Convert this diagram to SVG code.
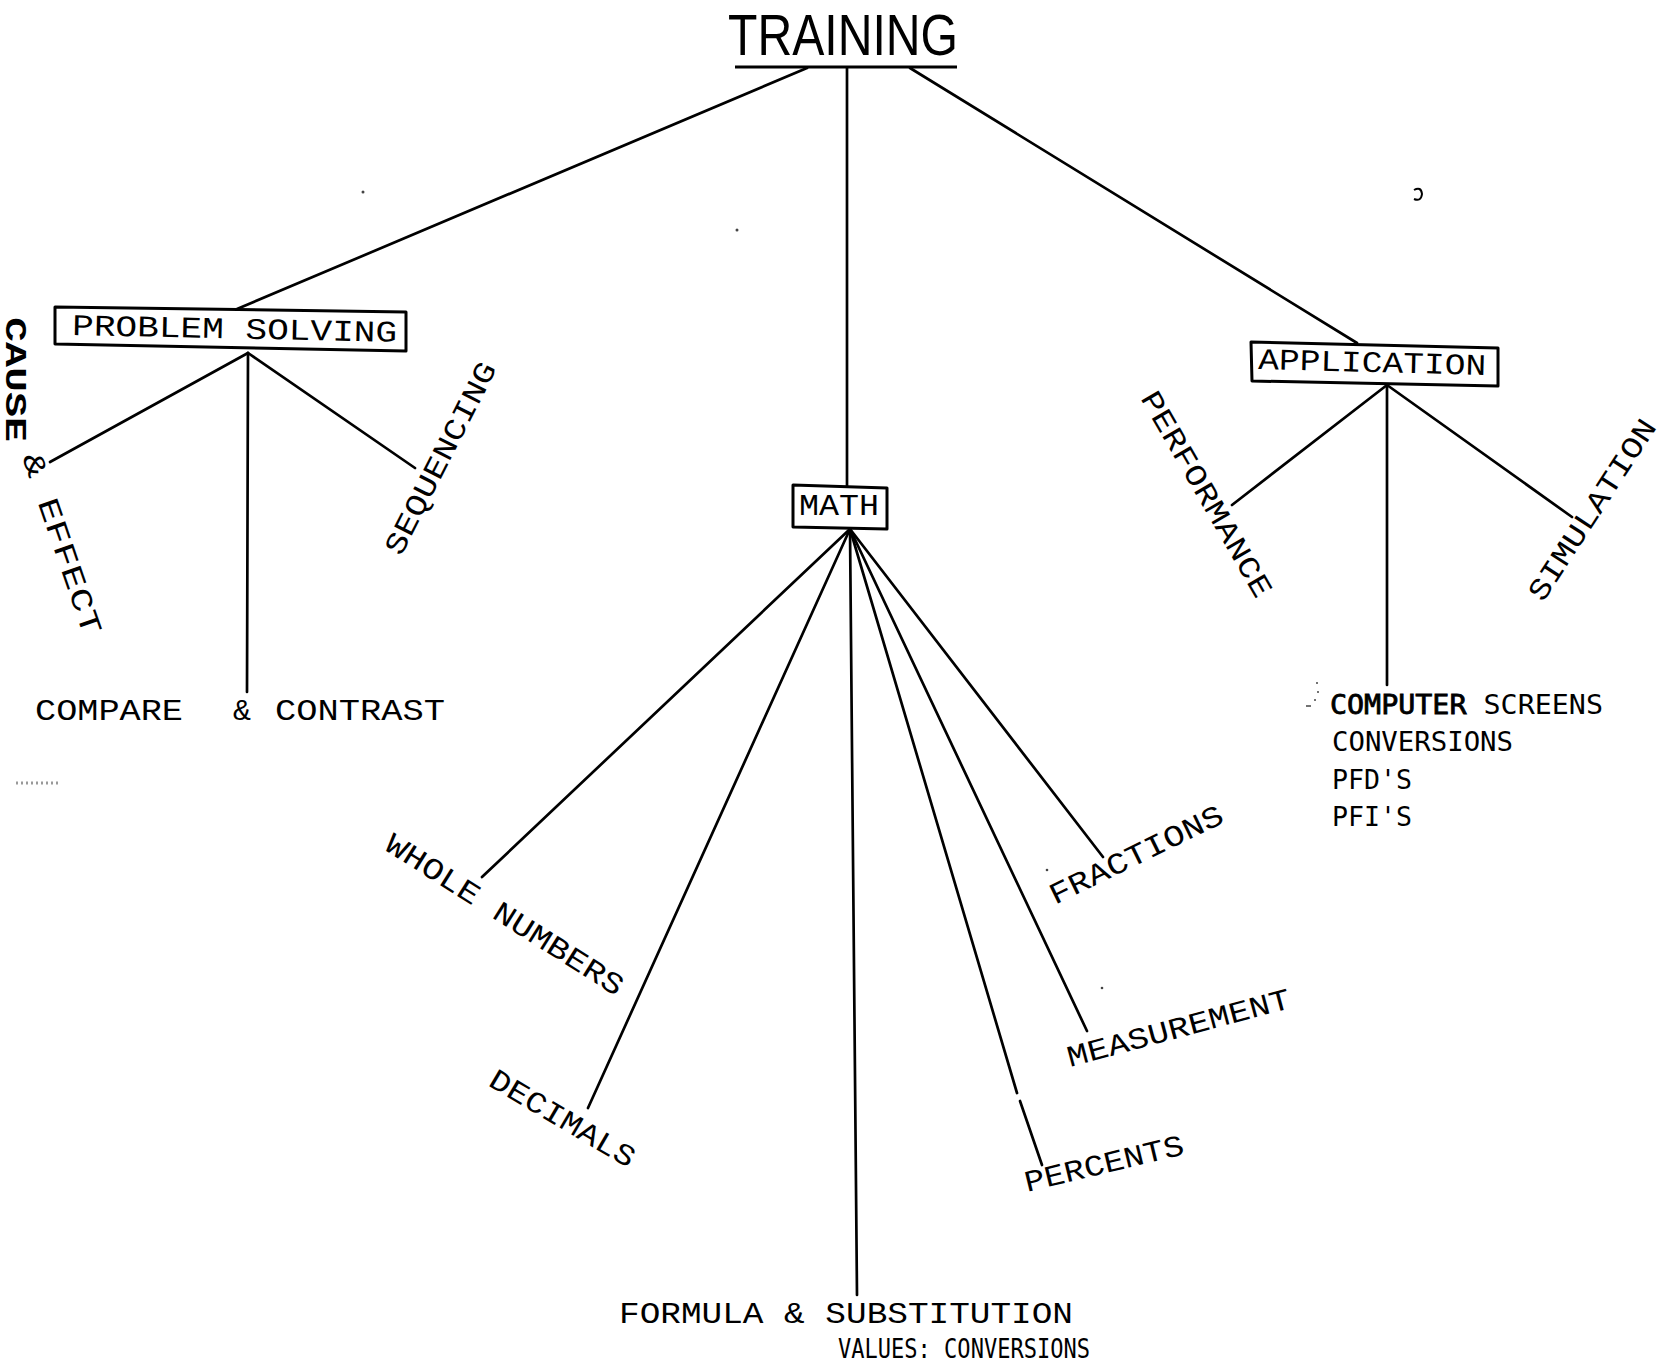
<svg xmlns="http://www.w3.org/2000/svg" width="1675" height="1368" viewBox="0 0 1675 1368">
<style>
.bg{fill:#fff}
.ln{stroke:#000;stroke-width:2.7;fill:none;stroke-linecap:round}
.box{fill:#fff;stroke:#000;stroke-width:3;stroke-linejoin:round}
.tw{font-family:"Liberation Mono","Courier New",monospace;font-size:30px;fill:#000}
.title{font-family:"Liberation Sans",Arial,sans-serif;font-size:58px;fill:#000}
.list{font-family:"DejaVu Sans Mono","Liberation Mono",monospace;font-size:27px;fill:#000}
.speck{fill:#444}
</style>
<rect class="bg" x="0" y="0" width="1675" height="1368"/>

<g id="connectors">
  <path class="ln" d="M807,68 L237,309"/>
  <path class="ln" d="M847,68 L847,486"/>
  <path class="ln" d="M910,68 L1357,343"/>
  <path class="ln" d="M248,353 L50,462"/>
  <path class="ln" d="M248,353 L247,692"/>
  <path class="ln" d="M248,353 L415,468"/>
  <path class="ln" d="M850,529 L482,877"/>
  <path class="ln" d="M850,529 L588,1108"/>
  <path class="ln" d="M850,529 L857,1295"/>
  <path class="ln" d="M850,529 L1017,1093"/>
  <path class="ln" d="M1020,1101 L1042,1165"/>
  <path class="ln" d="M850,529 L1087,1031"/>
  <path class="ln" d="M850,529 L1103,857"/>
  <path class="ln" d="M1387,385 L1232,505"/>
  <path class="ln" d="M1387,385 L1387,685"/>
  <path class="ln" d="M1387,385 L1572,517"/>
</g>

<g id="node-training">
  <text class="title" x="728" y="55" textLength="230" lengthAdjust="spacingAndGlyphs">TRAINING</text>
  <path d="M735,67 L957,67" stroke="#000" stroke-width="3"/>
</g>

<g id="node-problem-solving">
  <polygon class="box" points="55,307 406,312 406,351 55,344"/>
  <text class="tw" x="72" y="335" textLength="325" lengthAdjust="spacingAndGlyphs" transform="rotate(1.2 72 335)">PROBLEM SOLVING</text>
</g>

<g id="node-math">
  <polygon class="box" points="793,485 887,488 887,529 793,527"/>
  <text class="tw" x="799" y="515" textLength="80" lengthAdjust="spacingAndGlyphs">MATH</text>
</g>

<g id="node-application">
  <polygon class="box" points="1251,342 1498,348 1498,386 1252,381"/>
  <text class="tw" x="1258" y="369" textLength="228" lengthAdjust="spacingAndGlyphs" transform="rotate(1.5 1258 369)">APPLICATION</text>
</g>

<g id="node-cause-effect">
  <text class="tw" font-weight="bold" font-size="40" x="0" y="0" textLength="125" lengthAdjust="spacingAndGlyphs" transform="translate(6 317) rotate(90)">CAUSE</text>
  <text class="tw" font-size="32" x="0" y="0" textLength="190" lengthAdjust="spacingAndGlyphs" transform="translate(22 457) rotate(71)">&amp; EFFECT</text>
</g>

<g id="node-compare-contrast">
  <text class="tw" y="720"><tspan x="35" textLength="148" lengthAdjust="spacingAndGlyphs">COMPARE</tspan><tspan x="233">&amp;</tspan><tspan x="275" textLength="170" lengthAdjust="spacingAndGlyphs">CONTRAST</tspan></text>
</g>

<g id="node-sequencing">
  <text class="tw" x="0" y="0" textLength="212" lengthAdjust="spacingAndGlyphs" transform="translate(401 557) rotate(-63)">SEQUENCING</text>
</g>

<g id="node-whole-numbers">
  <text class="tw" x="0" y="0" textLength="276" lengthAdjust="spacingAndGlyphs" transform="translate(383 849) rotate(32.3)">WHOLE NUMBERS</text>
</g>

<g id="node-decimals">
  <text class="tw" x="0" y="0" textLength="164" lengthAdjust="spacingAndGlyphs" transform="translate(487 1085) rotate(30.5)">DECIMALS</text>
</g>

<g id="node-formula">
  <text class="tw" font-size="33" x="619" y="1323" textLength="454" lengthAdjust="spacingAndGlyphs">FORMULA &amp; SUBSTITUTION</text>
  <text class="list" font-size="30" x="838" y="1358" textLength="252" lengthAdjust="spacingAndGlyphs">VALUES: CONVERSIONS</text>
</g>

<g id="node-percents">
  <text class="tw" x="0" y="0" textLength="163" lengthAdjust="spacingAndGlyphs" transform="translate(1027 1192) rotate(-13.5)">PERCENTS</text>
</g>

<g id="node-measurement">
  <text class="tw" x="0" y="0" textLength="230" lengthAdjust="spacingAndGlyphs" transform="translate(1070 1067) rotate(-15)">MEASUREMENT</text>
</g>

<g id="node-fractions">
  <text class="tw" x="0" y="0" textLength="190" lengthAdjust="spacingAndGlyphs" transform="translate(1055 905) rotate(-26)">FRACTIONS</text>
</g>

<g id="node-performance">
  <text class="tw" x="0" y="0" textLength="233" lengthAdjust="spacingAndGlyphs" transform="translate(1140 398) rotate(60)">PERFORMANCE</text>
</g>

<g id="node-simulation">
  <text class="tw" x="0" y="0" textLength="210" lengthAdjust="spacingAndGlyphs" transform="translate(1543 603) rotate(-57)">SIMULATION</text>
</g>

<g id="node-application-list">
  <text class="list" x="1330" y="714" textLength="273" lengthAdjust="spacingAndGlyphs"><tspan stroke="#000" stroke-width="0.8">COMPUTER</tspan> SCREENS</text>
  <text class="list" x="1332" y="751" textLength="181" lengthAdjust="spacingAndGlyphs">CONVERSIONS</text>
  <text class="list" x="1332" y="789" textLength="80" lengthAdjust="spacingAndGlyphs">PFD'S</text>
  <text class="list" x="1332" y="826" textLength="80" lengthAdjust="spacingAndGlyphs">PFI'S</text>
</g>

<g id="specks">
  <circle class="speck" cx="363" cy="192" r="1.5"/>
  <circle class="speck" cx="737" cy="230" r="1.5"/>
  <circle class="speck" cx="1047" cy="870" r="1.3"/>
  <circle class="speck" cx="1102" cy="988" r="1.3"/>
  <circle class="speck" cx="1317" cy="683" r="1"/>
  <circle class="speck" cx="1318" cy="692" r="1"/>
  <circle class="speck" cx="1315" cy="700" r="1"/>
  <path d="M1306,706 L1311,706" stroke="#444" stroke-width="1.5"/>
  <path d="M1414,190 Q1421,186 1422,194 Q1421,202 1414,199" stroke="#000" stroke-width="2" fill="none"/>
  <path d="M16,783 L59,783" stroke="#999" stroke-width="3" stroke-dasharray="2 3"/>
</g>
</svg>
